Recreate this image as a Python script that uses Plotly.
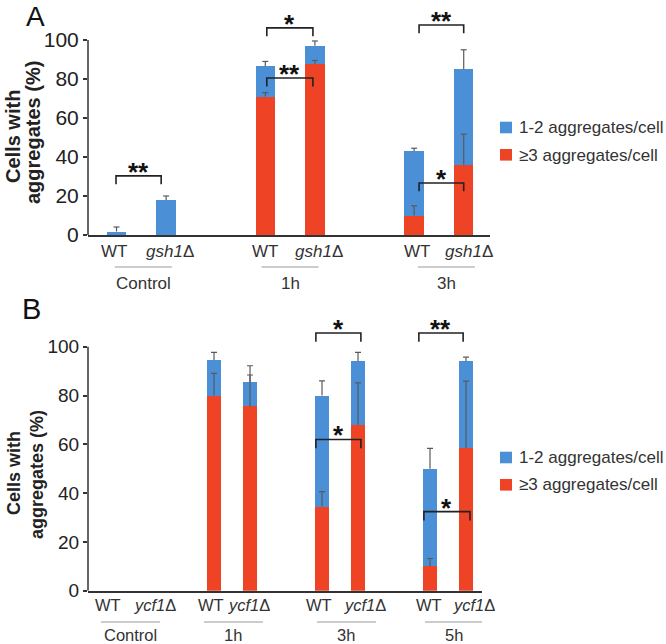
import plotly.graph_objects as go

W, H = 666, 644
FONT = "Arial, 'Liberation Sans', Helvetica, sans-serif"
BLUE = "#4b90d6"
RED = "#ee4324"
AXC = "#333333"
ERRC = "#5a5a5a"

# ---------------- data ----------------
groups_A = ["Control", "1h", "3h"]
strains_A = ["WT", "<i>gsh1</i>Δ"]
A_red = [0, 0, 71, 87.5, 10, 36]           # >=3 aggregates/cell
A_blue = [1.8, 18, 15.5, 9.5, 33, 49]      # 1-2 aggregates/cell (stacked on top)
A_err_total = [2.3, 2, 2.5, 2.5, 1.5, 10]
A_err_red = [0, 0, 2, 2, 5, 15.7]
A_sig = [("**", 0, 30.3), ("*", 1, 106.2), ("**", 1, 80.5), ("**", 2, 107.7), ("*", 2, 26.7)]

groups_B = ["Control", "1h", "3h", "5h"]
strains_B = ["WT", "<i>ycf1</i>Δ"]
B_red = [0, 0, 80, 75.5, 34.5, 68, 10, 58.5]
B_blue = [0, 0, 14.5, 10, 45.5, 26, 40, 35.5]
B_err_total = [0, 0, 3.2, 6.7, 6, 3.7, 8.3, 1.7]
B_err_red = [0, 0, 9.1, 12.9, 6.1, 17.2, 3.2, 27.4]
B_sig = [("*", 2, 105.6), ("*", 2, 62.0), ("**", 3, 105.6), ("*", 3, 32.4)]

series_names = ["1-2 aggregates/cell", "≥3 aggregates/cell"]
y_ticks = [0, 20, 40, 60, 80, 100]

fig = go.Figure()

panels = [
    dict(xa="x", ya="y", xdom=[88 / W, 490 / W], xr=[-0.575, 7.53], yr=[0, 118],
         ydom=[1 - 235 / H, 1 - 4.9 / H], groups=groups_A, strains=strains_A,
         red=A_red, blue=A_blue, et=A_err_total, er=A_err_red, sig=A_sig,
         bw=0.39, cap=0.06, drop=4.3, tickfont=21, labfont=17,
         row_y=252, line_y=267, grp_y=283,
         lab_off=[(-0.05, 0.08), (0.0, 0.09), (0.05, 0.1)],
         grp_off=[0.04, 0.0, 0.15], grp_half=0.575,
         sig_lr=[(-0.01, 0.9), (3.03, 3.96), (3.03, 3.96), (6.1, 7.0), (6.1, 7.0)],
         title_font=20, title_x=(13, 33), title_y=(137, 133),
         leg_sq=(121.7, 149), letter="A", letter_x=35, letter_size=28),
    dict(xa="x2", ya="y2", xdom=[88 / W, 482 / W], xr=[-0.5, 10.444], yr=[0, 113],
         ydom=[1 - 590.7 / H, 1 - 315 / H], groups=groups_B, strains=strains_B,
         red=B_red, blue=B_blue, et=B_err_total, er=B_err_red, sig=B_sig,
         bw=0.40, cap=0.083, drop=3.6, tickfont=19, labfont=16.5,
         row_y=605, line_y=622, grp_y=634.5,
         lab_off=[(0.05, 0.36), (-0.08, -0.03), (-0.08, 0.2), (-0.03, 0.22)],
         grp_off=[0.18, 0.04, 0.18, 0.18], grp_half=0.82,
         sig_lr=[(5.83, 7.08), (5.83, 7.08), (8.69, 9.92), (8.83, 10.11)],
         title_font=18, title_x=(14, 37), title_y=(473, 475),
         leg_sq=(451.7, 479), letter="B", letter_x=31, letter_size=29),
]
letter_top = [0, 292]

shapes = []
annotations = []

for p, ltop in zip(panels, letter_top):
    n = len(p["groups"])
    pos = [3 * g + s for g in range(n) for s in range(2)]
    tot = [r + b for r, b in zip(p["red"], p["blue"])]

    fig.add_trace(go.Bar(x=pos, y=p["red"], width=p["bw"], marker=dict(color=RED, line=dict(width=0)),
                         name=series_names[1], showlegend=False, xaxis=p["xa"], yaxis=p["ya"]))
    fig.add_trace(go.Bar(x=pos, y=p["blue"], width=p["bw"], marker=dict(color=BLUE, line=dict(width=0)),
                         name=series_names[0], showlegend=False, xaxis=p["xa"], yaxis=p["ya"]))

    # upward error bars (drawn after both bars so red ones show over blue segment)
    ex, ey = [], []
    for x, top, e in list(zip(pos, tot, p["et"])) + list(zip(pos, p["red"], p["er"])):
        if e <= 0:
            continue
        ex += [x, x, None, x - p["cap"], x + p["cap"], None]
        ey += [top, top + e, None, top + e, top + e, None]
    fig.add_trace(go.Scatter(x=ex, y=ey, mode="lines", line=dict(color=ERRC, width=1.2),
                             hoverinfo="skip", showlegend=False, xaxis=p["xa"], yaxis=p["ya"]))

    # y axis line (only up to 100)
    shapes.append(dict(type="line", xref="paper", yref=p["ya"], x0=p["xdom"][0], x1=p["xdom"][0],
                       y0=0, y1=100, line=dict(color=AXC, width=1.5)))

    # significance brackets
    for (lab, g, yv), (xl, xr) in zip(p["sig"], p["sig_lr"]):
        shapes.append(dict(type="path", xref=p["xa"], yref=p["ya"],
                           path=f"M {xl} {yv - p['drop']} L {xl} {yv} L {xr} {yv} L {xr} {yv - p['drop']}",
                           line=dict(color="#222222", width=1.6)))
        annotations.append(dict(xref=p["xa"], yref=p["ya"], x=(xl + xr) / 2, y=yv, text=f"<b>{lab}</b>",
                                showarrow=False, yanchor="middle", yshift=4,
                                font=dict(family=FONT, size=26, color="#111111")))

    # category labels under the axis
    for g in range(n):
        for s in range(2):
            annotations.append(dict(xref=p["xa"], yref="paper", x=3 * g + s + p["lab_off"][g][s],
                                    y=1 - p["row_y"] / H, text=p["strains"][s], showarrow=False,
                                    xanchor="center", yanchor="middle",
                                    font=dict(family=FONT, size=p["labfont"], color="#333333")))
        c = 3 * g + 0.5 + p["grp_off"][g]
        shapes.append(dict(type="line", xref=p["xa"], yref="paper", x0=c - p["grp_half"], x1=c + p["grp_half"],
                           y0=1 - p["line_y"] / H, y1=1 - p["line_y"] / H, line=dict(color="#999999", width=1.2)))
        annotations.append(dict(xref=p["xa"], yref="paper", x=c, y=1 - p["grp_y"] / H, text=p["groups"][g],
                                showarrow=False, xanchor="center", yanchor="middle", borderpad=0,
                                font=dict(family=FONT, size=p["labfont"], color="#333333")))

    # y axis title (two lines)
    for txt, tx, ty in zip(["Cells with", "aggregates (%)"], p["title_x"], p["title_y"]):
        annotations.append(dict(xref="paper", yref="paper", x=tx / W, y=1 - ty / H, text=f"<b>{txt}</b>",
                                textangle=-90, showarrow=False, xanchor="center", yanchor="middle",
                                font=dict(family=FONT, size=p["title_font"], color="#222222")))

    # legend
    for sq_top, col, name in zip(p["leg_sq"], [BLUE, RED], series_names):
        shapes.append(dict(type="rect", xref="paper", yref="paper", x0=500 / W, x1=512 / W,
                           y0=1 - (sq_top + 11.6) / H, y1=1 - sq_top / H, fillcolor=col, line=dict(width=0)))
        annotations.append(dict(xref="paper", yref="paper", x=517 / W, y=1 - (sq_top + 6) / H, text=name,
                                showarrow=False, xanchor="left", yanchor="middle",
                                font=dict(family=FONT, size=17, color="#333333")))

    # panel letter
    annotations.append(dict(xref="paper", yref="paper", x=p["letter_x"] / W, y=1 - ltop / H,
                            text=p["letter"], showarrow=False, xanchor="center", yanchor="top",
                            borderpad=0,
                            font=dict(family=FONT, size=p["letter_size"], color="#111111")))

def xaxis_cfg(p):
    return dict(domain=p["xdom"], range=p["xr"], anchor=p["ya"], showline=True, linecolor=AXC, linewidth=1.5,
                showticklabels=False, ticks="", showgrid=False, zeroline=False, fixedrange=True,
                automargin=False)

def yaxis_cfg(p):
    return dict(domain=p["ydom"], range=p["yr"], anchor=p["xa"], tickvals=y_ticks, ticks="outside", ticklen=4,
                tickwidth=1.5, tickcolor=AXC, showline=False, showgrid=False, zeroline=False,
                tickfont=dict(family=FONT, size=p["tickfont"], color="#222222"), fixedrange=True,
                automargin=False)

fig.update_layout(
    template="none",
    width=W, height=H, margin=dict(l=0, r=0, t=0, b=0, pad=0), autosize=False,
    paper_bgcolor="white", plot_bgcolor="white", barmode="stack", bargap=0,
    showlegend=False,
    xaxis=xaxis_cfg(panels[0]), yaxis=yaxis_cfg(panels[0]),
    xaxis2=xaxis_cfg(panels[1]), yaxis2=yaxis_cfg(panels[1]),
    shapes=shapes, annotations=annotations,
)

fig.write_html("out.html", config={"displayModeBar": False, "responsive": False},
               post_script="document.body.style.margin='0';document.body.style.overflow='hidden';")
